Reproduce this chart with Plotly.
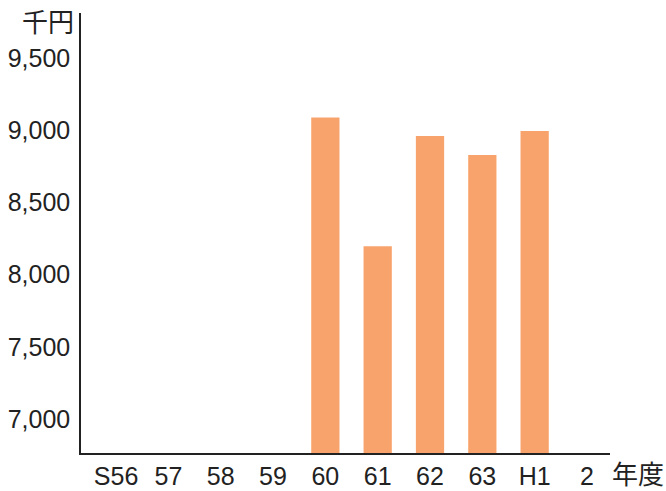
import plotly.graph_objects as go

categories = ["S56", "57", "58", "59", "60", "61", "62", "63", "H1", "2"]
values = [None, None, None, None, 9089, 8196, 8960, 8828, 8994, None]
y_ticks = [7000, 7500, 8000, 8500, 9000, 9500]

num_font = "Liberation Sans Narrow, Liberation Sans, Arial, sans-serif"
cjk_font = "Noto Sans CJK JP, sans-serif"

fig = go.Figure(
    go.Bar(
        x=list(range(len(categories))),
        y=values,
        width=0.54,
        marker=dict(color="#F9A36C", line=dict(width=0)),
    )
)

fig.update_layout(
    width=666,
    height=491,
    margin=dict(l=81, r=56, t=13, b=38),
    paper_bgcolor="white",
    plot_bgcolor="white",
    showlegend=False,
    xaxis=dict(
        range=[-0.67, 9.44],
        tickmode="array",
        tickvals=list(range(len(categories))),
        ticktext=categories,
        showgrid=False,
        zeroline=False,
        showline=True,
        linecolor="#222",
        linewidth=1.5,
        ticks="",
        automargin=False,
        ticklabelstandoff=0,
        tickfont=dict(family=num_font, size=25, color="#222"),
    ),
    yaxis=dict(
        range=[6765, 9812],
        tickmode="array",
        tickvals=y_ticks,
        ticktext=[f"{v:,}" for v in y_ticks],
        showgrid=False,
        zeroline=False,
        showline=True,
        linecolor="#222",
        linewidth=1.5,
        ticks="",
        automargin=False,
        ticklabelstandoff=4,
        tickfont=dict(family=num_font, size=25, color="#222"),
    ),
    annotations=[
        dict(
            text="千円",
            xref="paper", yref="paper",
            x=-0.017, y=0.984, xshift=4,
            xanchor="right", yanchor="middle",
            showarrow=False,
            font=dict(family=cjk_font, size=26, color="#222"),
        ),
        dict(
            text="年度",
            xref="paper", yref="paper",
            x=1.0, y=-0.045,
            xanchor="left", yanchor="middle",
            showarrow=False,
            font=dict(family=cjk_font, size=26, color="#222"),
        ),
    ],
)

fig.write_html("out.html")
